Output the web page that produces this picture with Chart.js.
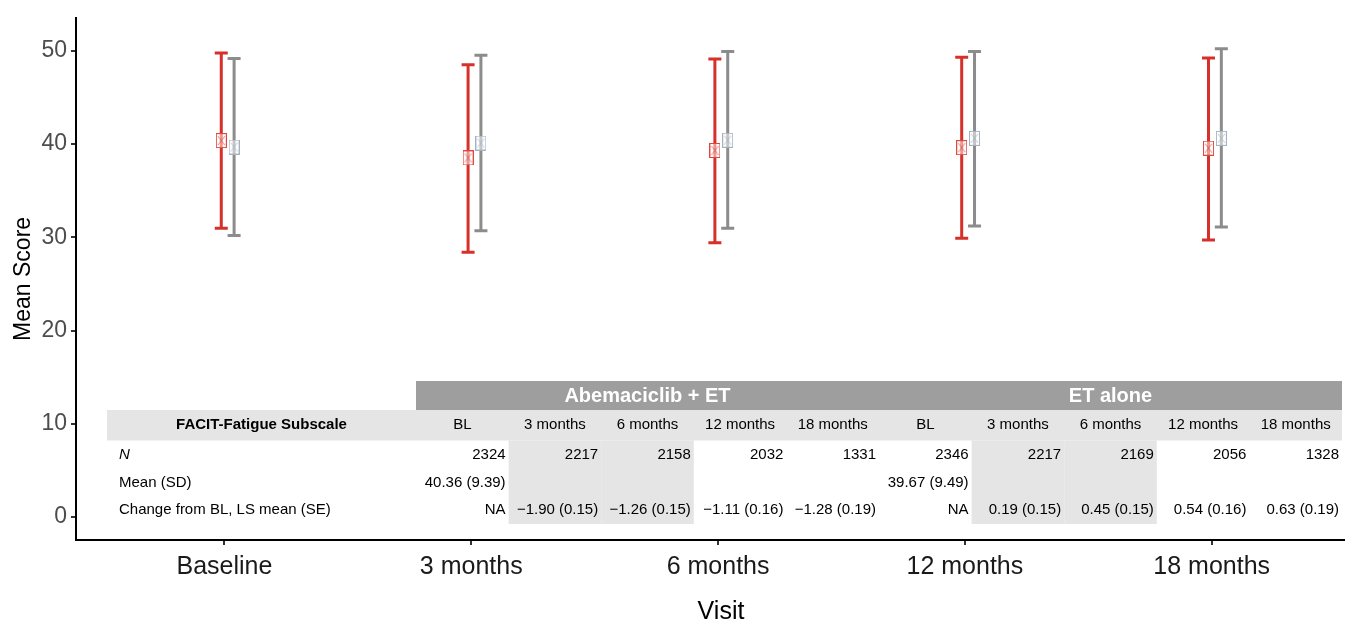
<!DOCTYPE html>
<html>
<head>
<meta charset="utf-8">
<script src="https://cdn.jsdelivr.net/npm/chart.js@4.4.1/dist/chart.umd.min.js"></script>
<style>
  html, body { margin: 0; padding: 0; background: #fff; }
  canvas { display: block; }
</style>
</head>
<body>
<canvas id="myChart" width="1352" height="624"></canvas>
<script>
// visits on the x axis
const visits = ['Baseline', '3 months', '6 months', '12 months', '18 months'];
const yTicks = [0, 10, 20, 30, 40, 50];

// Abemaciclib + ET : mean and mean ± SD
const abemaMean = [40.36, 38.5, 39.3, 39.6, 39.55];
const abemaLow  = [30.97, 28.4, 29.4, 29.9, 29.7];
const abemaHigh = [49.75, 48.5, 49.1, 49.3, 49.2];

// ET alone
const etMean = [39.67, 40.1, 40.4, 40.6, 40.6];
const etLow  = [30.18, 30.7, 30.95, 31.2, 31.1];
const etHigh = [49.16, 49.5, 49.9, 49.9, 50.2];

// table under the plot
const tableTitle = 'FACIT-Fatigue Subscale';
const groups = ['Abemaciclib + ET', 'ET alone'];
const tableCols = ['BL', '3 months', '6 months', '12 months', '18 months'];
const rowLabels = ['N', 'Mean (SD)', 'Change from BL, LS mean (SE)'];
const abemaN = ['2324', '2217', '2158', '2032', '1331'];
const abemaMeanSD = ['40.36 (9.39)', '', '', '', ''];
const abemaChange = ['NA', '\u22121.90 (0.15)', '\u22121.26 (0.15)', '\u22121.11 (0.16)', '\u22121.28 (0.19)'];
const etN = ['2346', '2217', '2169', '2056', '1328'];
const etMeanSD = ['39.67 (9.49)', '', '', '', ''];
const etChange = ['NA', '0.19 (0.15)', '0.45 (0.15)', '0.54 (0.16)', '0.63 (0.19)'];

const red = '#d7302a';
const grey = '#8c8c8c';
const FONT = '"Liberation Sans", Arial, sans-serif';

// little box-with-x marker
function makeMarker(stroke) {
  const c = document.createElement('canvas');
  c.width = 11; c.height = 15;
  const g = c.getContext('2d');
  g.fillStyle = 'rgba(255,255,255,0.5)';
  g.fillRect(0.5, 0.5, 10, 14);
  g.strokeStyle = stroke;
  g.lineWidth = 1;
  g.strokeRect(0.5, 0.5, 10, 14);
  g.globalAlpha = 0.7;
  g.beginPath();
  g.moveTo(2, 3); g.lineTo(9, 12);
  g.moveTo(9, 3); g.lineTo(2, 12);
  g.stroke();
  return c;
}

const redOff = -0.013;
const greyOff = 0.039;

const errorBars = {
  id: 'errorBars',
  beforeDatasetsDraw(chart) {
    const ctx = chart.ctx;
    const y = chart.scales.y;
    chart.data.datasets.forEach((ds, di) => {
      const meta = chart.getDatasetMeta(di);
      ctx.save();
      ctx.strokeStyle = ds.barColor;
      ctx.lineWidth = 3;
      meta.data.forEach((pt, i) => {
        const x = pt.x;
        const top = y.getPixelForValue(ds.high[i]);
        const bot = y.getPixelForValue(ds.low[i]);
        ctx.beginPath();
        ctx.moveTo(x, top); ctx.lineTo(x, bot);
        ctx.moveTo(x - 6.5, top); ctx.lineTo(x + 6.5, top);
        ctx.moveTo(x - 6.5, bot); ctx.lineTo(x + 6.5, bot);
        ctx.stroke();
      });
      ctx.restore();
    });
  }
};

const tablePlugin = {
  id: 'tablePlugin',
  afterDraw(chart) {
    const ctx = chart.ctx;
    const left = 107, firstRight = 416, colW = 92.6;
    const barTop = 381, headTop = 410, headBot = 440.5, bodyBot = 524;
    const rowY = [455, 483, 510];
    const right = firstRight + colW * 10;
    ctx.save();
    // shaded columns (3 and 6 months of each arm)
    ctx.fillStyle = '#e5e5e5';
    [1, 2, 6, 7].forEach(c => {
      ctx.fillRect(firstRight + colW * c, headBot, colW, bodyBot - headBot);
    });
    ctx.fillRect(left, headTop, right - left, headBot - headTop);
    ctx.fillStyle = '#9e9e9e';
    ctx.fillRect(firstRight, barTop, right - firstRight, headTop - barTop);

    // group titles
    ctx.fillStyle = '#ffffff';
    ctx.font = 'bold 20px ' + FONT;
    ctx.textAlign = 'center';
    ctx.textBaseline = 'middle';
    groups.forEach((g, k) => {
      ctx.fillText(g, firstRight + colW * (5 * k + 2.5), (barTop + headTop) / 2 + 1);
    });

    // column header row
    ctx.fillStyle = '#000';
    ctx.font = 'bold 15px ' + FONT;
    ctx.fillText(tableTitle, (left + firstRight) / 2, (headTop + headBot) / 2);
    ctx.font = '15px ' + FONT;
    for (let k = 0; k < 2; k++) {
      tableCols.forEach((t, i) => {
        ctx.fillText(t, firstRight + colW * (5 * k + i + 0.5), (headTop + headBot) / 2);
      });
    }

    // row labels
    ctx.textAlign = 'left';
    rowLabels.forEach((t, r) => {
      ctx.font = (r === 0 ? 'italic ' : '') + '15px ' + FONT;
      ctx.fillText(t, 119, rowY[r]);
    });

    // body values, right aligned
    ctx.font = '15px ' + FONT;
    ctx.textAlign = 'right';
    const rows = [[abemaN, etN], [abemaMeanSD, etMeanSD], [abemaChange, etChange]];
    rows.forEach((pair, r) => {
      pair.forEach((vals, k) => {
        vals.forEach((v, i) => {
          if (v) ctx.fillText(v, firstRight + colW * (5 * k + i + 1) - 3, rowY[r]);
        });
      });
    });

    // x axis title (centred on the full panel, which runs past the right edge)
    ctx.font = '25px ' + FONT;
    ctx.textAlign = 'center';
    ctx.fillText('Visit', 721, 612);
    ctx.restore();
  }
};

const data = {
  datasets: [
    {
      label: 'Abemaciclib + ET',
      data: abemaMean.map((m, i) => ({ x: i + redOff, y: m })),
      low: abemaLow,
      high: abemaHigh,
      barColor: red,
      pointStyle: makeMarker('#e0483e'),
      pointRadius: 7
    },
    {
      label: 'ET alone',
      data: etMean.map((m, i) => ({ x: i + greyOff, y: m })),
      low: etLow,
      high: etHigh,
      barColor: grey,
      pointStyle: makeMarker('#a3b2c2'),
      pointRadius: 7
    }
  ]
};

const config = {
  type: 'scatter',
  data: data,
  plugins: [errorBars, tablePlugin],
  options: {
    responsive: false,
    animation: false,
    layout: { padding: { top: 15, right: 7, left: 0, bottom: 0 } },
    plugins: {
      legend: { display: false },
      tooltip: { enabled: false }
    },
    scales: {
      x: {
        type: 'linear',
        min: -0.6016,
        max: 4.536,
        afterBuildTicks: (scale) => { scale.ticks = visits.map((v, i) => ({ value: i })); },
        afterFit: (scale) => { scale.height = 84; },
        grid: { drawOnChartArea: false, drawTicks: true, tickLength: 5, color: '#333', lineWidth: 2 },
        border: { display: true, color: '#000', width: 2 },
        ticks: {
          autoSkip: false,
          maxRotation: 0,
          padding: 7,
          color: '#1a1a1a',
          font: { family: FONT, size: 25 },
          callback: (v) => visits[v]
        },
        title: { display: false }
      },
      y: {
        min: -2.452,
        max: 53.52,
        afterBuildTicks: (scale) => { scale.ticks = yTicks.map(v => ({ value: v })); },
        afterFit: (scale) => { scale.width = 76; },
        grid: { drawOnChartArea: false, drawTicks: true, tickLength: 5, color: '#333', lineWidth: 2 },
        border: { display: true, color: '#000', width: 2 },
        ticks: {
          padding: 4,
          color: '#4d4d4d',
          font: { family: FONT, size: 23 }
        },
        title: {
          display: true,
          text: 'Mean Score',
          color: '#000',
          font: { family: FONT, size: 23 },
          padding: { top: 10, bottom: 0 }
        }
      }
    }
  }
};

var myChart = new Chart(document.getElementById('myChart'), config);
</script>
</body>
</html>
